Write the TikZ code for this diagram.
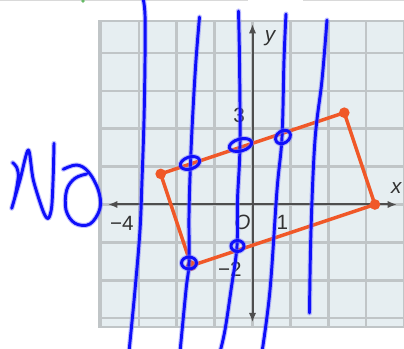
\documentclass[tikz,border=0pt]{standalone}
\usepackage{fontspec}
\setmainfont{Liberation Sans}
\usetikzlibrary{arrows.meta}
\definecolor{cellfill}{RGB}{230,238,241}
\definecolor{gridc}{RGB}{192,197,199}
\definecolor{axisc}{RGB}{78,78,78}
\definecolor{rectc}{RGB}{240,88,40}
\definecolor{penc}{RGB}{15,15,250}
\definecolor{haloc}{RGB}{120,120,255}
\definecolor{labc}{RGB}{50,50,50}
\begin{document}
\begin{tikzpicture}[x=0.75pt,y=-0.75pt,
  gridline/.style={draw=gridc, line width=1.7pt},
  axisline/.style={draw=axisc, line width=1.5pt, {Latex[length=7pt,width=5.5pt]}-{Latex[length=7pt,width=5.5pt]}},
  lab/.style={text=labc, font=\fontsize{15.5}{18}\selectfont, inner sep=0pt},
  ilab/.style={lab, font=\fontsize{15.5}{18}\selectfont\itshape},
  rectedge/.style={draw=rectc, line width=2.6pt, line join=round},
  vdot/.style={circle, fill=rectc, minimum size=8pt, inner sep=0pt},
  halo/.style={draw=haloc, line width=3.8pt, opacity=0.45, line cap=round, line join=round},
  pen/.style={draw=penc, line width=2.2pt, opacity=1, line cap=round, line join=round},
  stroke/.style={postaction={pen}, halo},
]
\useasboundingbox (0,0) rectangle (404,349);
\clip (0,0) rectangle (404,349);
\fill[white] (0,0) rectangle (404,349);
% faint fragments at the top edge
\draw[gray!30, line width=0.8pt] (0,0.5) -- (248,0.5);
\draw[gray!30, line width=0.8pt] (303,0.5) -- (404,0.5);
\fill[green!55!black!60] (83,1) circle (1.4pt);

% coordinate plane
\begin{scope}[shift={(252.5,204.5)}, x=22.95pt, y=22.95pt]
  \fill[cellfill] (-5,-4) rectangle (5.3,6);
  \draw[gridline] (-5,-4) grid (5,6);
  \draw[gridline] (-5,-4) rectangle (5,6);
  \coordinate (xl) at (-4.72,0);
  \coordinate (xr) at (4.72,0);
  \coordinate (yb) at (0,-3.85);
  \coordinate (yt) at (0,5.9);
  \draw[axisline] (xl) -- (xr);
  \draw[axisline] (yb) -- (yt);
  \node[ilab] (labx) at (4.7,0.55) {x};
  \node[ilab] (laby) at (0.57,5.43) {y};
  \node[lab] (labm4) at (-4.27,-0.62) {−4};
  \node[ilab] (labO) at (-0.33,-0.6) {O};
  \node[lab] (lab1) at (0.98,-0.6) {1};
  \node[lab] (labm2) at (-0.74,-2.11) {−2};
  \node[lab] (lab3) at (-0.44,2.92) {3};
  \coordinate (A) at (-3,1);
  \coordinate (B) at (3,3);
  \coordinate (C) at (4,0);
  \coordinate (D) at (-2,-2);
  \draw[rectedge] (A) -- (B) -- (C) -- (D) -- cycle;
  \node[vdot] (dA) at (A) {};
  \node[vdot] (dB) at (B) {};
  \node[vdot] (dC) at (C) {};
  \node[vdot] (dD) at (D) {};
\end{scope}

% blue handwriting
\draw[stroke] plot[smooth, tension=0.6] coordinates {(143,-2) (145,15) (145,60) (144,120) (142,180) (140,230) (135,290) (129,352)};
\draw[stroke] plot[smooth, tension=0.6] coordinates {(199.5,17) (196,60) (193,110) (190.5,163) (189,215) (189,263) (186,290) (180,352)};
\draw[stroke] plot[smooth, tension=0.6] coordinates {(238.5,11) (239.5,60) (240,145) (237.5,200) (237,246) (231,290) (225,330) (220,352)};
\draw[stroke] plot[smooth, tension=0.6] coordinates {(286,14) (284,60) (282,137) (277,190) (270,290) (262,352)};
\draw[stroke] plot[smooth, tension=0.6] coordinates {(327,20) (322,80) (315,140) (311,230) (309.5,313)};
% loops
\draw[stroke, shift={(190,163)}, rotate=18] (0,0) ellipse [x radius=10, y radius=6];
\draw[stroke, shift={(189,263)}] (0,0) ellipse [x radius=7.5, y radius=6];
\draw[stroke, shift={(240.5,145)}, rotate=15] (0,0) ellipse [x radius=11.5, y radius=6];
\draw[stroke, shift={(237.5,246)}] (0,0) ellipse [x radius=6.5, y radius=5.5];
\draw[stroke, shift={(283,137)}, rotate=35] (0,0) ellipse [x radius=8, y radius=6];
% "No"
\draw[stroke] plot[smooth, tension=0.5] coordinates {(12.7,162.7) (16.7,167.3) (18.3,176.7) (15,196.7) (11.7,208.3) (20,180) (28.3,150) (33.3,180) (43.3,211.7) (48.3,218.3) (51.7,206.7) (53.3,173.3) (54,143.3)};
\draw[stroke] plot[smooth, tension=0.6] coordinates {(63.3,169.3) (76.7,165) (88.3,171.7) (98.3,190) (100,208.3) (90,224) (75,223.3) (66,210) (66.7,190) (75,178.3) (86.7,174)};
\end{tikzpicture}
\end{document}
